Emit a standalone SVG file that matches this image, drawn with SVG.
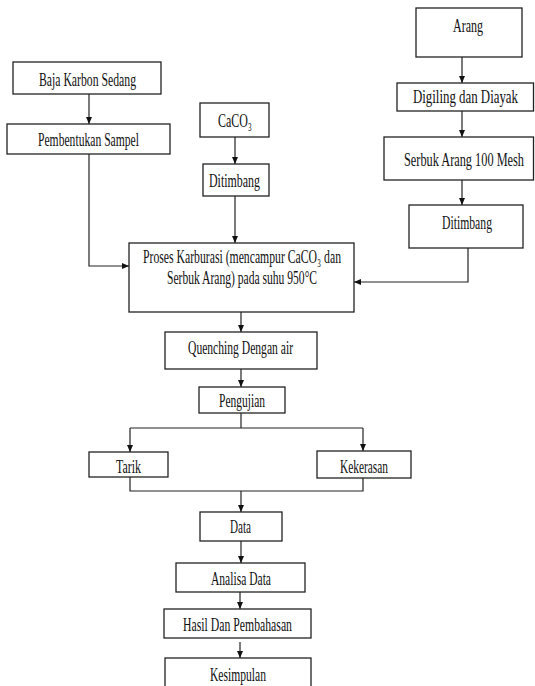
<svg xmlns="http://www.w3.org/2000/svg" width="535" height="686" viewBox="0 0 535 686">
<defs>
<style>
.box{fill:#fff;stroke:#222;stroke-width:1.3}
.ln{fill:none;stroke:#222;stroke-width:1.2}
.arr{marker-end:url(#ah)}
text{font-family:"Liberation Serif","Times New Roman","DejaVu Serif",serif;font-size:18px;fill:#111;text-anchor:middle}
</style>
<marker id="ah" markerUnits="userSpaceOnUse" markerWidth="7" markerHeight="6" refX="7" refY="3" orient="auto">
<path d="M0,0 L7,3 L0,6 z" fill="#111"/>
</marker>
</defs>
<rect width="535" height="686" fill="#fff"/>
<g id="connectors">
<path class="ln arr" d="M89,94 V124"/>
<path class="ln arr" d="M89,154 V266 H129"/>
<path class="ln arr" d="M235,137 V164"/>
<path class="ln arr" d="M235,196 V243"/>
<path class="ln arr" d="M462,57 V83"/>
<path class="ln arr" d="M462,111 V137"/>
<path class="ln arr" d="M462,180 V205"/>
<path class="ln arr" d="M468,248 V282 H354"/>
<path class="ln arr" d="M241,312 V332"/>
<path class="ln arr" d="M241,369 V387"/>
<path class="ln" d="M241,413 V428"/>
<path class="ln" d="M130,428 H363"/>
<path class="ln arr" d="M130,428 V452"/>
<path class="ln arr" d="M363,428 V451"/>
<path class="ln" d="M130,477 V491 H363 V478"/>
<path class="ln arr" d="M241,491 V512"/>
<path class="ln arr" d="M241,541 V563"/>
<path class="ln arr" d="M240,592 V609"/>
<path class="ln arr" d="M240,642 V658"/>
</g>
<g id="baja"><rect class="box" x="13" y="62" width="148" height="32"/><text x="87.5" y="86" textLength="97" lengthAdjust="spacingAndGlyphs">Baja Karbon Sedang</text></g>
<g id="pembentukan"><rect class="box" x="7" y="124" width="163" height="30"/><text x="88.5" y="145.5" textLength="101" lengthAdjust="spacingAndGlyphs">Pembentukan Sampel</text></g>
<g id="caco3"><rect class="box" x="200" y="103" width="69" height="34"/><text x="235" y="127" textLength="34" lengthAdjust="spacingAndGlyphs">CaCO₃</text></g>
<g id="ditimbang1"><rect class="box" x="203" y="164" width="66" height="32"/><text x="234.5" y="187" textLength="51" lengthAdjust="spacingAndGlyphs">Ditimbang</text></g>
<g id="arang"><rect class="box" x="416" y="8" width="106" height="49"/><text x="468" y="32" textLength="30" lengthAdjust="spacingAndGlyphs">Arang</text></g>
<g id="digiling"><rect class="box" x="397" y="83" width="136.5" height="28"/><text transform="translate(465.5,103) scale(0.7,1)" x="0" y="0" textLength="150" lengthAdjust="spacingAndGlyphs">Digiling dan Diayak</text></g>
<g id="serbuk"><rect class="box" x="384" y="137" width="149.5" height="43"/><text transform="translate(464,166) scale(0.64,1)" x="0" y="0" textLength="187.5" lengthAdjust="spacingAndGlyphs">Serbuk Arang 100 Mesh</text></g>
<g id="ditimbang2"><rect class="box" x="409" y="205" width="114" height="43"/><text x="467" y="229" textLength="50" lengthAdjust="spacingAndGlyphs">Ditimbang</text></g>
<g id="proses"><rect class="box" x="129" y="243" width="225" height="69"/>
<text x="242" y="263" textLength="198" lengthAdjust="spacingAndGlyphs">Proses Karburasi (mencampur CaCO₃ dan</text>
<text x="242" y="284" textLength="150" lengthAdjust="spacingAndGlyphs">Serbuk Arang) pada suhu 950°C</text></g>
<g id="quenching"><rect class="box" x="165" y="332" width="152" height="37"/><text x="240.5" y="354" textLength="105" lengthAdjust="spacingAndGlyphs">Quenching Dengan air</text></g>
<g id="pengujian"><rect class="box" x="199" y="387" width="86" height="26"/><text x="242" y="407" textLength="46" lengthAdjust="spacingAndGlyphs">Pengujian</text></g>
<g id="tarik"><rect class="box" x="89" y="452" width="79" height="25"/><text x="128.5" y="473" textLength="25" lengthAdjust="spacingAndGlyphs">Tarik</text></g>
<g id="kekerasan"><rect class="box" x="317" y="451" width="94" height="27"/><text x="364" y="473" textLength="48" lengthAdjust="spacingAndGlyphs">Kekerasan</text></g>
<g id="data"><rect class="box" x="200" y="512" width="82" height="29"/><text x="240.5" y="533" textLength="21" lengthAdjust="spacingAndGlyphs">Data</text></g>
<g id="analisa"><rect class="box" x="176" y="563" width="129" height="29"/><text x="241" y="585" textLength="60" lengthAdjust="spacingAndGlyphs">Analisa Data</text></g>
<g id="hasil"><rect class="box" x="164" y="609" width="147" height="29"/><text x="237.5" y="631" textLength="109" lengthAdjust="spacingAndGlyphs">Hasil Dan Pembahasan</text></g>
<g id="kesimpulan"><rect class="box" x="165" y="658" width="146" height="40"/><text x="238" y="681" textLength="56" lengthAdjust="spacingAndGlyphs">Kesimpulan</text></g>
</svg>
